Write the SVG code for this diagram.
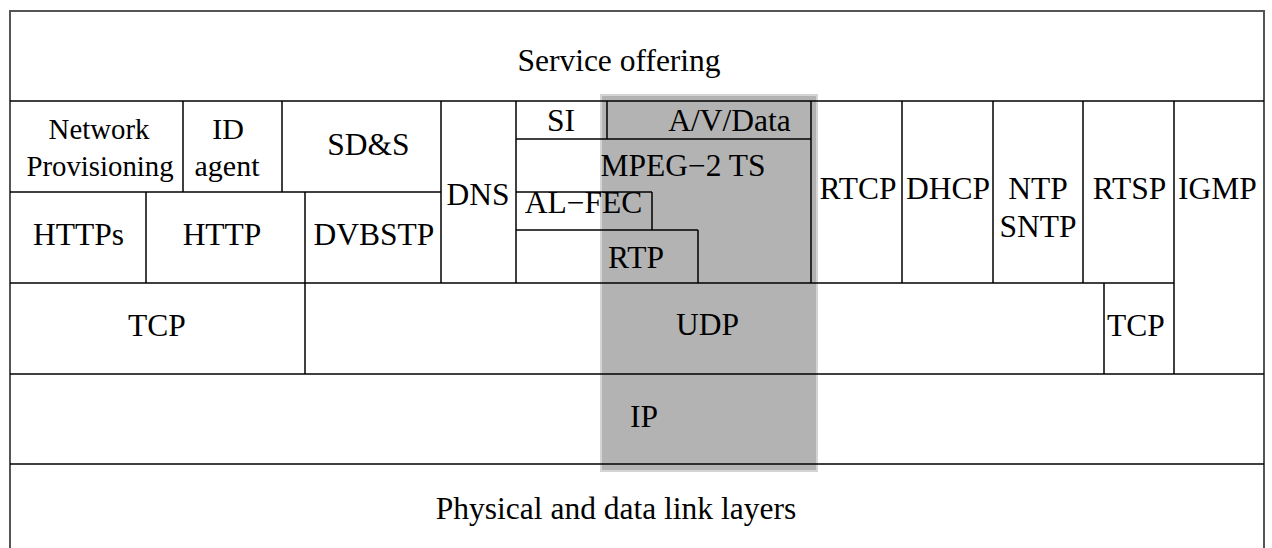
<svg xmlns="http://www.w3.org/2000/svg" width="1272" height="548" viewBox="0 0 1272 548">
  <style>
    .frame { fill: none; stroke: #555555; stroke-width: 2; }
    .ln { stroke: #000000; stroke-width: 1.5; fill: none; }
    .hl { fill: #b3b3b3; stroke: #d4d4d4; stroke-width: 2; }
    text { font-family: "Liberation Serif", "Times New Roman", serif; font-size: 31.5px; fill: #000000; text-anchor: middle; }
    .sm { font-size: 28.8px; }
    .md { font-size: 30px; }
  </style>
  <rect width="1272" height="548" fill="#ffffff"/>

  <!-- highlighted media path -->
  <rect id="media-path" class="hl" x="601" y="95" width="216" height="376"/>

  <!-- outer frame -->
  <rect class="frame" x="10" y="11" width="1254" height="545"/>

  <!-- layer boundaries -->
  <g id="connectors" class="ln">
    <line x1="10" y1="101" x2="1264" y2="101"/>
    <line x1="10" y1="192" x2="441" y2="192"/>
    <line x1="10" y1="283" x2="1174" y2="283"/>
    <line x1="10" y1="374" x2="1264" y2="374"/>
    <line x1="10" y1="464" x2="1264" y2="464"/>
    <line x1="516" y1="139" x2="811" y2="139"/>
    <line x1="516" y1="192" x2="652" y2="192"/>
    <line x1="516" y1="230" x2="698" y2="230"/>

    <line x1="183" y1="101" x2="183" y2="192"/>
    <line x1="282" y1="101" x2="282" y2="192"/>
    <line x1="441" y1="101" x2="441" y2="283"/>
    <line x1="146" y1="192" x2="146" y2="283"/>
    <line x1="305" y1="192" x2="305" y2="374"/>
    <line x1="516" y1="101" x2="516" y2="283"/>
    <line x1="607" y1="101" x2="607" y2="139"/>
    <line x1="652" y1="192" x2="652" y2="230"/>
    <line x1="698" y1="230" x2="698" y2="283"/>
    <line x1="811" y1="101" x2="811" y2="283"/>
    <line x1="902" y1="101" x2="902" y2="283"/>
    <line x1="993" y1="101" x2="993" y2="283"/>
    <line x1="1083" y1="101" x2="1083" y2="283"/>
    <line x1="1174" y1="101" x2="1174" y2="374"/>
    <line x1="1104" y1="283" x2="1104" y2="374"/>
  </g>

  <g id="service-offering"><text x="619" y="71">Service offering</text></g>
  <g id="network-provisioning">
    <text class="sm" x="99" y="139">Network</text>
    <text class="sm" x="100" y="176">Provisioning</text>
  </g>
  <g id="id-agent">
    <text class="md" x="228" y="139">ID</text>
    <text class="md" x="227" y="176">agent</text>
  </g>
  <g id="sds"><text x="368.5" y="155">SD&amp;S</text></g>
  <g id="https"><text x="78.5" y="245">HTTPs</text></g>
  <g id="http"><text x="222" y="245">HTTP</text></g>
  <g id="dvbstp"><text x="374" y="245">DVBSTP</text></g>
  <g id="dns"><text x="478" y="205">DNS</text></g>
  <g id="si"><text x="561" y="131">SI</text></g>
  <g id="av-data"><text x="729.5" y="131">A/V/Data</text></g>
  <g id="mpeg2-ts"><text x="683" y="176">MPEG−2 TS</text></g>
  <g id="al-fec"><text x="583.5" y="213">AL−FEC</text></g>
  <g id="rtp"><text x="636" y="268">RTP</text></g>
  <g id="rtcp"><text x="858" y="199">RTCP</text></g>
  <g id="dhcp"><text x="948" y="199">DHCP</text></g>
  <g id="ntp-sntp">
    <text x="1038" y="199">NTP</text>
    <text x="1038" y="237">SNTP</text>
  </g>
  <g id="rtsp"><text x="1129.5" y="199">RTSP</text></g>
  <g id="igmp"><text x="1217.5" y="199">IGMP</text></g>
  <g id="tcp-left"><text x="157" y="336">TCP</text></g>
  <g id="udp"><text x="707.5" y="335">UDP</text></g>
  <g id="tcp-right"><text x="1136" y="336">TCP</text></g>
  <g id="ip"><text x="644" y="427">IP</text></g>
  <g id="phy"><text x="616" y="519">Physical and data link layers</text></g>
</svg>
